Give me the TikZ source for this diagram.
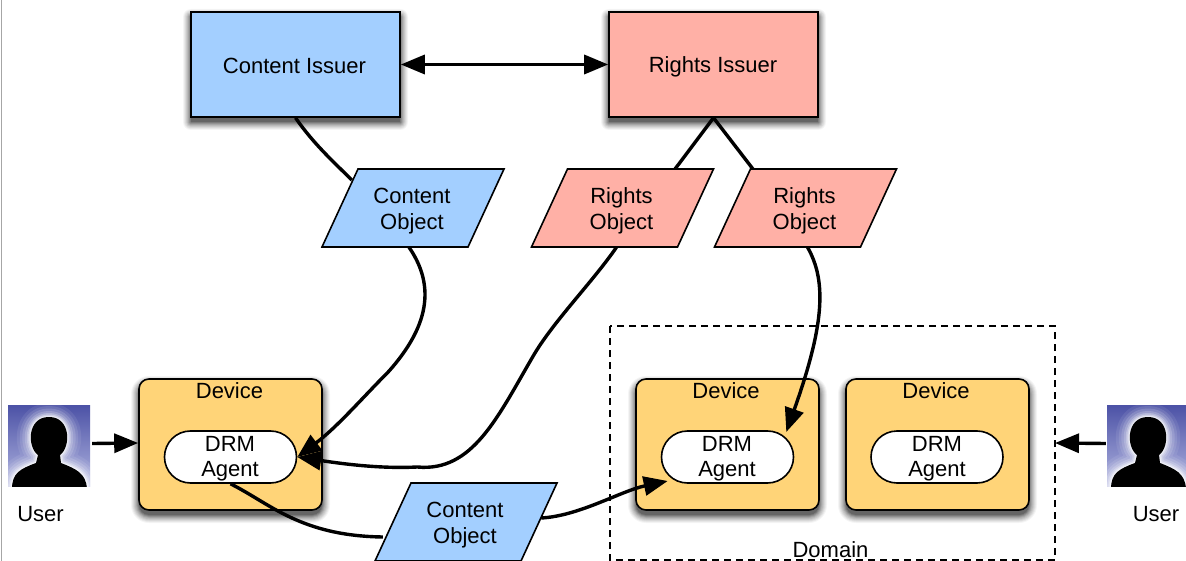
\documentclass[tikz,border=0pt]{standalone}
\usepackage{fontspec}
\setmainfont{Liberation Sans}
\usetikzlibrary{arrows.meta,calc,shapes.misc}
\definecolor{cblue}{HTML}{A3CFFF}
\definecolor{cpink}{HTML}{FFB0A6}
\definecolor{corange}{HTML}{FFD478}
\definecolor{facetop}{HTML}{4C52A6}
\definecolor{facebot}{HTML}{B0B4E0}
\tikzset{
  issuer/.style={rectangle,draw=black,line width=1.6pt,minimum width=209pt,minimum height=105pt,inner sep=0pt,align=center},
  device/.style={rectangle,rounded corners=10pt,draw=black,line width=1.6pt,fill=corange,minimum width=183pt,minimum height=131pt},
  agent/.style={rounded rectangle,draw=black,line width=1.6pt,fill=white,minimum width=132pt,minimum height=52pt,inner sep=0pt,align=center,rounded rectangle arc length=180},
  plain/.style={inner sep=0pt,outer sep=0pt,align=center},
  objbox/.style={rectangle,inner sep=0pt,minimum width=146pt,minimum height=78pt,align=center},
  conn/.style={draw=black,line width=3.4pt},
  tip/.style={conn,-{Triangle[length=24pt,width=19pt]}},
  both/.style={conn,{Triangle[length=24pt,width=19pt]}-{Triangle[length=24pt,width=19pt]}},
  frame/.style={draw=black,line width=1.3pt,dash pattern=on 7pt off 5pt},
  facebox/.style={minimum width=82pt,minimum height=81pt,inner sep=0pt}
}
\newcommand{\softbox}[5]{% x1,y1,x2,y2,radius
  \foreach \d/\o in {8/.04,7/.05,6/.06,5/.07,4/.08,3/.10,2/.12,1/.15,0/.18}{
    \fill[black,opacity=\o,rounded corners=#5pt+\d pt] (#1-\d,#2+5-\d) rectangle (#3+\d,#4+5+\d);
  }
}
\newcommand{\paraobj}[3]{% x, y, colour
  \filldraw[fill=#3,draw=black,line width=1.6pt,line join=miter]
    (#1-91+36,#2-39) -- ++(146,0) -- ++(-36,78) -- ++(-146,0) -- cycle;
}
\newcommand{\facepath}{(4,84) .. controls (4,68) and (12,64) .. (28,58) -- (30,50)
          .. controls (19,42) and (19,12) .. (41,12)
          .. controls (63,12) and (63,42) .. (52,50) -- (53,58)
          .. controls (68,64) and (78,68) .. (79,84) -- cycle}
\newcommand{\faceart}[2]{% x,y left top
  \begin{scope}[shift={(#1,#2)}]
    \begin{scope}
      \clip (0,0) rectangle (82,81);
      \shade[top color=facetop,bottom color=facebot] (0,0) rectangle (82,81);
      \foreach \w/\o in {28/.08,22/.10,17/.14,12/.18,8/.25,5/.35,2.5/.5}{
        \draw[white,opacity=\o,line width=\w pt,line join=round] \facepath;
      }
      \fill[black] \facepath;
    \end{scope}
  \end{scope}
}
\begin{document}
\begin{tikzpicture}[x=1pt,y=-1pt,font=\fontsize{22}{26}\selectfont]
\useasboundingbox (0,0) rectangle (1186,561);
\fill[white] (0,0) rectangle (1186,561);
\draw[gray!70,line width=1pt] (1,0) -- (1,561);

% connector helper nodes (invisible boxes holding the labels)
\node[objbox] (co1) at (413,208) {};
\node[objbox] (ro1) at (622.5,208) {};
\node[objbox] (ro2) at (805.5,208) {};
\node[objbox] (co2) at (466,522) {};
\node[facebox] (u1) at (49,445.5) {};
\node[facebox] (u2) at (1148,445.5) {};

% Domain
\draw[frame] (610,326) rectangle (1055,560);
\node[plain] (domainlabel) at (830.5,549.5) {Domain};
\coordinate (dome) at (1055,443);

% Shadows
\softbox{191}{12}{400}{117}{0}
\softbox{609}{12}{818}{117}{0}
\softbox{139}{379}{322}{510}{10}
\softbox{636}{379}{819}{510}{10}
\softbox{846}{379}{1029}{510}{10}

% Boxes
\node[issuer,fill=cblue] (ci) at (295.5,64.5) {};
\node[issuer,fill=cpink] (ri) at (713.5,64.5) {};
\node[plain] (cil) at (294.5,65.5) {Content Issuer};
\node[plain] (ril) at (713,66.5) {Rights Issuer};
\node[device] (d1) at (230.5,444.5) {};
\node[device] (d2) at (727.5,444.5) {};
\node[device] (d3) at (937.5,444.5) {};
\node[plain] (d1l) at (229.5,391) {Device};
\node[plain] (d2l) at (726,391) {Device};
\node[plain] (d3l) at (936,391) {Device};
\node[agent] (a1) at (230.5,457) {};
\node[agent] (a2) at (727.5,457) {};
\node[agent] (a3) at (937,457) {};
\node[plain] (a1t) at (230,458.5) {DRM\\[-0.5pt]Agent};
\node[plain] (a2t) at (727,458.5) {DRM\\[-0.5pt]Agent};
\node[plain] (a3t) at (937,458.5) {DRM\\[-0.5pt]Agent};

% lines behind the objects
\draw[conn] (ci.south) .. controls ($(ci.south)+(18,26)$) and ($(ci.south)+(38,44)$) .. ($(co1.west)+(12,-28)$);
\draw[conn] (ri.south) -- ($(ro1.north east)+(-22,2)$);
\draw[conn] (ri.south) -- ($(ro2.north west)+(22,2)$);
\draw[conn] (a1.south) .. controls ($(a1.south)+(40,20)$) and ($(a1.south)+(70,52)$) .. ($(co2.west)+(-10,15)$);

% Objects
\paraobj{413}{208}{cblue}
\paraobj{622.5}{208}{cpink}
\paraobj{805.5}{208}{cpink}
\paraobj{466}{522}{cblue}
\node[plain] at ($(co1)+(-1,3)$) {Content\\[0pt]Object};
\node[plain] at ($(ro1)+(-1,3)$) {Rights\\[0pt]Object};
\node[plain] at ($(ro2)+(-1,3)$) {Rights\\[0pt]Object};
\node[plain] at ($(co2)+(-1,3)$) {Content\\[0pt]Object};

% Arrows
\draw[both] (ci.east) -- (ri.west);
\draw[tip] ($(co1.south)+(-4,0)$) .. controls ($(co1.south)+(20,35)$) and ($(co1.south)+(20,75)$) .. ($(co1.south)+(-25,125)$)
  .. controls ($(co1.south)+(-50,150)$) and ($(a1.east)+(40,-30)$) .. (a1.east);
\draw[tip] ($(ro1.south)+(-6,0)$) .. controls ($(ro1.south)+(-30,35)$) and ($(ro1.south)+(-70,75)$) .. ($(ro1.south)+(-90,110)$)
  .. controls ($(ro1.south)+(-125,170)$) and ($(ro1.south)+(-150,225)$) .. ($(a1.east)+(120,10)$)
  .. controls ($(a1.east)+(80,12)$) and ($(a1.east)+(40,6)$) .. (a1.east);
\draw[tip] ($(ro2.south)+(2,0)$) .. controls ($(ro2.south)+(22,35)$) and ($(ro2.south)+(18,80)$) .. ($(a2.east)+(-8,-25)$);
\draw[tip] ($(co2.east)+(2,-4)$) .. controls ($(co2.east)+(40,-6)$) and ($(a2.west)+(-40,34)$) .. ($(a2.west)+(7,24)$);
\faceart{8}{405}
\faceart{1107}{405}
\draw[tip] (u1.east) ++(2,-2) -- (d1.west |- 0,443);
\draw[tip] ($(u2.west)+(-1,-2)$) -- (dome);
\node[plain] (u1l) at (40.5,514) {User};
\node[plain] (u2l) at (1156,514) {User};
\end{tikzpicture}
\end{document}
